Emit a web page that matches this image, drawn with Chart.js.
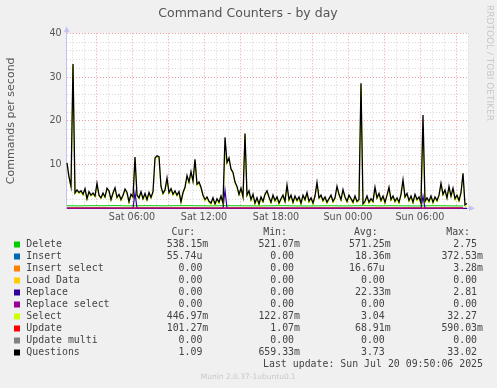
<!DOCTYPE html>
<html>
<head>
<meta charset="utf-8">
<script src="https://cdn.jsdelivr.net/npm/chart.js@4.4.0/dist/chart.umd.min.js"></script>
<style>
  html, body { margin: 0; padding: 0; background: #f0f0f0; }
  canvas { display: block; }
</style>
</head>
<body>
<canvas id="commandsChart" width="497" height="388"></canvas>
<script>
// Time axis: hours since Sat 00:00, 10 minute samples (fine) and hourly samples (coarse)
const START_HOUR = 0.5833;
const AXIS_MIN = 0.558;
const AXIS_MAX = 34.0;

// Questions per second (10 min steps)
const questions = [
  10.4, 7.2, 5.0, 33.0, 3.5, 4.2, 3.6, 4.0, 3.2, 4.5,
  2.2, 3.8, 3.0, 3.5, 2.8, 5.7, 3.0, 2.4, 3.5, 2.6,
  4.6, 4.0, 2.0, 3.5, 4.7, 2.5, 3.2, 2.0, 3.0, 4.4,
  3.6, 1.5, 3.2, 2.6, 11.7, 3.0, 2.4, 3.8, 2.2, 3.4,
  2.0, 3.6, 2.5, 3.8, 11.5, 12.0, 11.8, 5.0, 3.4, 4.2,
  6.9, 3.6, 4.5, 3.2, 4.0, 3.0, 3.8, 1.5, 3.6, 4.8,
  7.5, 6.0, 8.4, 6.2, 11.2, 5.5, 6.0, 4.8, 3.0, 2.0,
  2.6, 1.6, 1.2, 2.4, 1.0, 2.2, 1.4, 2.8, 1.2, 16.2,
  10.5, 11.5, 9.0, 8.2, 6.0, 5.0, 3.2, 4.6, 2.6, 17.1,
  3.0, 4.0, 2.0, 3.2, 1.2, 2.4, 1.0, 2.6, 1.6, 3.2,
  4.0, 2.6, 1.4, 3.0, 1.8, 2.6, 1.2, 2.2, 3.0, 1.6,
  5.3, 2.0, 3.0, 1.4, 2.8, 1.8, 2.6, 1.2, 3.0, 2.0,
  3.6, 1.6, 2.4, 1.2, 2.8, 5.9, 2.4, 3.0, 1.8, 2.6,
  1.4, 2.2, 3.0, 1.6, 2.4, 5.0, 3.2, 2.0, 4.3, 2.6,
  1.6, 3.0, 2.2, 1.4, 2.8, 1.6, 2.0, 28.6, 1.0, 1.6,
  2.8, 1.4, 2.2, 1.6, 4.8, 2.4, 3.4, 1.8, 2.8, 1.4,
  3.0, 4.8, 2.0, 2.8, 1.6, 2.4, 1.4, 3.2, 6.5, 2.6,
  3.4, 1.8, 2.8, 1.4, 3.2, 2.0, 2.6, 1.2, 21.3, 1.6,
  2.4, 1.6, 2.8, 1.4, 2.6, 1.8, 3.0, 5.7, 3.2, 4.2,
  2.4, 5.0, 2.8, 4.6, 2.2, 3.0, 1.8, 3.6, 8.0, 0.8, 1.1
];

// Select per second (10 min steps), hugging the questions line
const selects = [
  10.1, 6.9, 4.7, 32.6, 3.2, 3.9, 3.3, 3.7, 2.9, 4.2,
  1.8, 3.5, 2.7, 3.2, 2.5, 5.4, 2.7, 2.1, 3.2, 2.3,
  4.3, 3.7, 1.6, 3.2, 4.4, 2.2, 2.9, 1.6, 2.7, 4.1,
  3.3, 1.1, 2.9, 2.3, 11.3, 2.7, 2.1, 3.5, 1.9, 3.1,
  1.6, 3.3, 2.2, 3.5, 11.2, 11.7, 11.5, 4.7, 3.1, 3.9,
  6.6, 3.3, 4.2, 2.9, 3.7, 2.7, 3.5, 1.1, 3.3, 4.5,
  7.2, 5.7, 8.1, 5.9, 10.9, 5.2, 5.7, 4.5, 2.7, 1.6,
  2.3, 1.2, 0.8, 2.1, 0.6, 1.9, 1.0, 2.5, 0.8, 12.4,
  10.2, 11.2, 8.7, 7.9, 5.7, 4.7, 2.9, 4.3, 2.3, 16.8,
  2.7, 3.7, 1.6, 2.9, 0.8, 2.1, 0.6, 2.3, 1.2, 2.9,
  3.7, 2.3, 1.0, 2.7, 1.4, 2.3, 0.8, 1.9, 2.7, 1.2,
  5.0, 1.6, 2.7, 1.0, 2.5, 1.4, 2.3, 0.8, 2.7, 1.6,
  3.3, 1.2, 2.1, 0.8, 2.5, 5.6, 2.1, 2.7, 1.4, 2.3,
  1.0, 1.9, 2.7, 1.2, 2.1, 4.7, 2.9, 1.6, 4.0, 2.3,
  1.2, 2.7, 1.9, 1.0, 2.5, 1.2, 1.6, 28.2, 0.6, 1.2,
  2.5, 1.0, 1.9, 1.2, 4.5, 2.1, 3.1, 1.4, 2.5, 1.0,
  2.7, 4.5, 1.6, 2.5, 1.2, 2.1, 1.0, 2.9, 6.2, 2.3,
  3.1, 1.4, 2.5, 1.0, 2.9, 1.6, 2.3, 0.8, 18.2, 1.2,
  2.1, 1.2, 2.5, 1.0, 2.3, 1.4, 2.7, 5.4, 2.9, 3.9,
  2.1, 4.7, 2.5, 4.3, 1.8, 2.7, 1.4, 3.3, 7.7, 0.4, 0.45
];

// Replace per second (10 min steps), mostly idle
const replaces = [
  0, 0, 0, 0, 0, 0, 0, 0, 0, 0,
  0, 0, 0, 0, 0, 0, 0, 0, 0, 0,
  0, 0, 0, 0, 0, 0, 0, 0, 0, 0,
  0, 0, 0, 0, 3.6, 0, 0, 0, 0, 0,
  0, 0, 0, 0, 0, 0, 0, 0, 0, 0,
  0, 0, 0, 0, 0, 0, 0, 0, 0, 0,
  0, 0, 0, 0, 0, 0, 0, 0, 0, 0,
  0, 0, 0, 0, 0, 0, 0, 0, 0, 4.2,
  0, 0, 0, 0, 0, 0, 0, 0, 0, 0,
  0, 0, 0, 0, 0, 0, 0, 0, 0, 0,
  0, 0, 0, 0, 0, 0, 0, 0, 0, 0,
  0, 0, 0, 0, 0, 0, 0, 0, 0, 0,
  0, 0, 0, 0, 0, 0, 0, 0, 0, 0,
  0, 0, 0, 0, 0, 0, 0, 0, 0, 0,
  0, 0, 0, 0, 0, 0, 0, 0, 0, 0,
  0, 0, 0, 0, 0, 0, 0, 0, 0, 0,
  0, 0, 0, 0, 0, 0, 0, 0, 0, 0,
  0, 0, 0, 0, 0, 0, 0, 0, 2.8, 0,
  0, 0, 0, 0, 0, 0, 0, 0, 0, 0,
  0, 0, 0, 0, 0, 0, 0, 0, 0, 0, 0
];

// Hourly samples for the low series
const deletes = [0.58, 0.55, 0.60, 0.57, 0.62, 0.55, 0.58, 0.60, 0.56, 0.59, 0.61, 0.57,
  0.55, 0.60, 0.58, 0.56, 0.54, 0.57, 0.60, 0.55, 0.53, 0.56, 0.58, 0.54,
  0.57, 0.60, 0.55, 0.58, 0.56, 0.54, 0.57, 0.59, 0.55, 0.54];
const inserts = [0.02, 0.01, 0.03, 0.02, 0.02, 0.01, 0.02, 0.03, 0.02, 0.01, 0.02, 0.02,
  0.01, 0.02, 0.03, 0.02, 0.01, 0.02, 0.02, 0.01, 0.02, 0.03, 0.02, 0.01,
  0.02, 0.02, 0.01, 0.02, 0.03, 0.02, 0.01, 0.02, 0.02, 0.01];
const updates = [0.07, 0.06, 0.08, 0.07, 0.05, 0.06, 0.08, 0.07, 0.06, 0.07, 0.09, 0.06,
  0.05, 0.07, 0.06, 0.08, 0.07, 0.06, 0.05, 0.07, 0.06, 0.08, 0.07, 0.06,
  0.07, 0.06, 0.08, 0.07, 0.06, 0.07, 0.05, 0.06, 0.08, 0.10];
const zeros = deletes.map(() => 0);

// Legend table
const legendNames = ['Delete', 'Insert', 'Insert select', 'Load Data', 'Replace',
  'Replace select', 'Select', 'Update', 'Update multi', 'Questions'];
const legendColors = ['#00cc00', '#0066b3', '#ff8000', '#ffcc00', '#330099',
  '#990099', '#ccff00', '#ff0000', '#808080', '#000000'];
const curValues = ['538.15m', '55.74u ', '0.00 ', '0.00 ', '0.00 ', '0.00 ', '446.97m', '101.27m', '0.00 ', '1.09 '];
const minValues = ['521.07m', '0.00 ', '0.00 ', '0.00 ', '0.00 ', '0.00 ', '122.87m', '1.07m', '0.00 ', '659.33m'];
const avgValues = ['571.25m', '18.36m', '16.67u ', '0.00 ', '22.33m', '0.00 ', '3.04 ', '68.91m', '0.00 ', '3.73 '];
const maxValues = ['2.75 ', '372.53m', '3.28m', '0.00 ', '2.81 ', '0.00 ', '32.27 ', '590.03m', '0.00 ', '33.02 '];

// Tick labels
const hourLabels = { 6: 'Sat 06:00', 12: 'Sat 12:00', 18: 'Sat 18:00', 24: 'Sun 00:00', 30: 'Sun 06:00' };

const fineHours = questions.map((_, i) => START_HOUR + i / 6);
const coarseHours = deletes.map((_, i) => START_HOUR + i);
const pts = (xs, ys) => ys.map((y, i) => ({ x: xs[i], y: y }));

const seriesPoints = [
  pts(coarseHours, deletes),
  pts(coarseHours, inserts),
  pts(coarseHours, zeros),
  pts(coarseHours, zeros),
  pts(fineHours, replaces),
  pts(coarseHours, zeros),
  pts(fineHours, selects),
  pts(coarseHours, updates),
  pts(coarseHours, zeros),
  pts(fineHours, questions)
];
// drawing order: lower number is painted on top
const drawOrder = [9, 10, 12, 11, 6, 3, 4, 5, 8, 1];
const lineWidths = [1, 1, 1, 1, 1.2, 1, 1, 1, 1, 1.3];

const SANS = "'DejaVu Sans', sans-serif";
const MONO = "'DejaVu Sans Mono', monospace";

const muninPlugin = {
  id: 'muninDecor',
  beforeDraw(chart) {
    const { ctx, chartArea: a } = chart;
    ctx.save();
    ctx.fillStyle = '#ffffff';
    ctx.fillRect(a.left, a.top, a.right - a.left, a.bottom - a.top);
    ctx.restore();
  },
  afterDraw(chart) {
    const { ctx, chartArea: a } = chart;
    ctx.save();
    // axis arrows
    ctx.fillStyle = '#c4c4f4';
    ctx.beginPath();
    ctx.moveTo(a.left - 3, a.top - 1);
    ctx.lineTo(a.left + 3, a.top - 1);
    ctx.lineTo(a.left, a.top - 7);
    ctx.closePath();
    ctx.fill();
    ctx.fillRect(a.left - 0.5, a.top - 2, 1, 2);
    ctx.beginPath();
    ctx.moveTo(a.right + 1, a.bottom - 3);
    ctx.lineTo(a.right + 1, a.bottom + 3);
    ctx.lineTo(a.right + 7, a.bottom);
    ctx.closePath();
    ctx.fill();

    // title
    ctx.fillStyle = '#555555';
    ctx.font = '12.5px ' + SANS;
    ctx.textAlign = 'center';
    ctx.textBaseline = 'middle';
    ctx.fillText('Command Counters - by day', 248, 14);

    // y axis title
    ctx.save();
    ctx.translate(11, (a.top + a.bottom) / 2);
    ctx.rotate(-Math.PI / 2);
    ctx.font = '11px ' + SANS;
    ctx.fillText('Commands per second', 0, 0);
    ctx.restore();

    // side watermark
    ctx.save();
    ctx.translate(489, 5);
    ctx.rotate(Math.PI / 2);
    ctx.textAlign = 'left';
    ctx.fillStyle = '#c8c8c8';
    ctx.font = '9px ' + SANS;
    ctx.fillText('RRDTOOL / TOBI OETIKER', 0, 0);
    ctx.restore();

    // legend table
    ctx.font = '9.9px ' + MONO;
    ctx.fillStyle = '#444444';
    ctx.textAlign = 'right';
    const colEnds = [208.3, 300, 390.7, 483];
    ['Cur:', 'Min:', 'Avg:', 'Max:'].forEach((h, k) => ctx.fillText(h, colEnds[k] - 13, 232.5));
    const cols = [curValues, minValues, avgValues, maxValues];
    legendNames.forEach((name, r) => {
      const y = 244.5 + r * 12;
      ctx.fillStyle = legendColors[r];
      ctx.fillRect(14, y - 3, 6, 6);
      ctx.fillStyle = '#444444';
      ctx.textAlign = 'left';
      ctx.fillText(name, 26.3, y);
      ctx.textAlign = 'right';
      cols.forEach((col, k) => ctx.fillText(col[r], colEnds[k], y));
    });
    ctx.fillText('Last update: Sun Jul 20 09:50:06 2025', 483, 364.3);

    ctx.textAlign = 'center';
    ctx.fillStyle = '#c8c8c8';
    ctx.font = '7.5px ' + SANS;
    ctx.fillText('Munin 2.0.37-1ubuntu0.1', 248.3, 377.3);
    ctx.restore();
  }
};

const gridColor = (major, minor) => (c) => {
  const v = c.tick ? c.tick.value : null;
  if (v === null) return 'rgba(0,0,0,0)';
  return major(v) ? '#f0a0a0' : (minor(v) ? '#d8d8d8' : 'rgba(0,0,0,0)');
};

new Chart(document.getElementById('commandsChart').getContext('2d'), {
  type: 'line',
  data: {
    datasets: legendNames.map((name, i) => ({
      label: name,
      data: seriesPoints[i],
      borderColor: legendColors[i],
      backgroundColor: legendColors[i],
      borderWidth: lineWidths[i],
      pointRadius: 0,
      tension: 0,
      fill: false,
      order: drawOrder[i],
      clip: 2
    }))
  },
  options: {
    responsive: false,
    animation: false,
    events: [],
    layout: { padding: { left: 0, top: 33.3, right: 29, bottom: 159.7 } },
    plugins: { legend: { display: false }, tooltip: { enabled: false }, title: { display: false } },
    scales: {
      x: {
        type: 'linear',
        min: AXIS_MIN,
        max: AXIS_MAX,
        afterFit: (s) => { s.height = 20; },
        grid: {
          drawTicks: false,
          lineWidth: 1,
          color: gridColor(v => v % 3 === 0, v => true)
        },
        border: { display: true, color: '#c4c4f4', width: 1, dash: [1, 2] },
        ticks: {
          stepSize: 1,
          includeBounds: false,
          autoSkip: false,
          maxRotation: 0,
          padding: 3,
          color: '#555555',
          font: { family: 'DejaVu Sans', size: 9.6 },
          callback: (v) => hourLabels[v] || ''
        }
      },
      y: {
        min: 0,
        max: 40,
        afterFit: (s) => { s.width = 66.7; },
        grid: {
          drawTicks: false,
          lineWidth: 1,
          color: gridColor(v => v > 0 && v % 10 === 0, v => v > 0)
        },
        border: { display: true, color: '#c4c4f4', width: 1, dash: [1, 2] },
        ticks: {
          stepSize: 2,
          autoSkip: false,
          padding: 5,
          color: '#555555',
          font: { family: 'DejaVu Sans', size: 9.6 },
          callback: (v) => (v > 0 && v % 10 === 0 ? String(v) : '')
        }
      }
    }
  },
  plugins: [muninPlugin]
});
</script>
</body>
</html>
